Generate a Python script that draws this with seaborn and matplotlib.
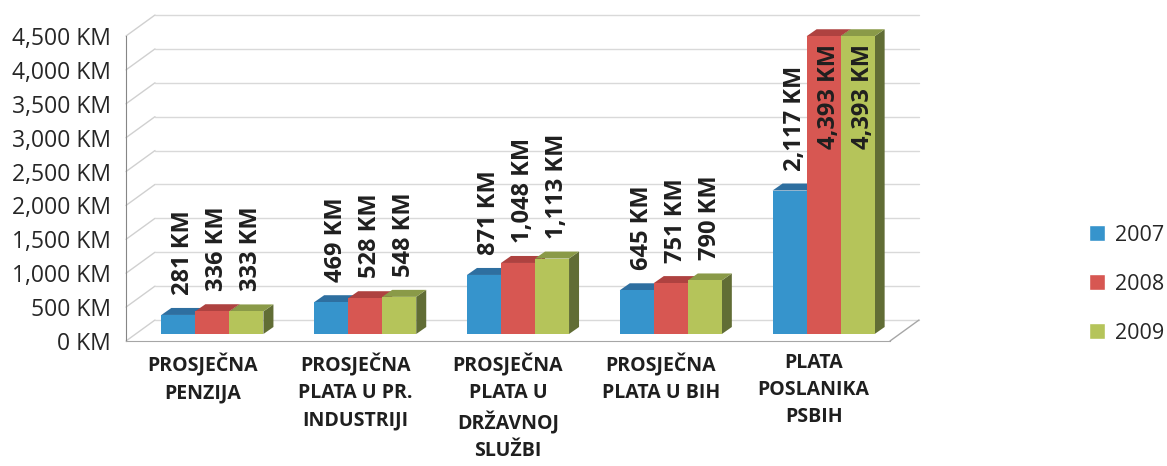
import numpy as np
import pandas as pd
import seaborn as sns
import matplotlib
matplotlib.use("Agg")
import matplotlib.pyplot as plt
from matplotlib.patches import Polygon
from matplotlib.lines import Line2D

# data
categories = ["PROSJEČNA\nPENZIJA", "PROSJEČNA\nPLATA U PR.\nINDUSTRIJI",
              "PROSJEČNA\nPLATA U\nDRŽAVNOJ\nSLUŽBI", "PROSJEČNA\nPLATA U BIH",
              "PLATA\nPOSLANIKA\nPSBIH"]
years = ["2007", "2008", "2009"]
v2007 = [281, 469, 871, 645, 2117]
v2008 = [336, 528, 1048, 751, 4393]
v2009 = [333, 548, 1113, 790, 4393]
yticks = [0, 500, 1000, 1500, 2000, 2500, 3000, 3500, 4000, 4500]

front_col = ["#3694CC", "#D75752", "#B5C45A"]
top_col = ["#2E6FA0", "#AE4240", "#8A9A48"]
side_col = ["#2A5F88", "#8F3533", "#616D35"]

df = pd.DataFrame({
    "cat": np.repeat(categories, 3),
    "year": years * len(categories),
    "val": np.ravel(np.column_stack([v2007, v2008, v2009])),
})

sns.set_style("white")
plt.rcParams["font.family"] = ["Open Sans", "DejaVu Sans"]

W, H = 1167, 466
fig = plt.figure(figsize=(W / 100, H / 100), dpi=100)
ax = fig.add_axes([126 / W, 125 / H, 764 / W, 305 / H])

sns.barplot(data=df, x="cat", y="val", hue="year", hue_order=years,
            palette=front_col, width=0.668, gap=0, dodge=True,
            saturation=1, ax=ax, legend=False, errorbar=None)
ax.set_xlim(-0.5, len(categories) - 0.5)
ax.set_ylim(0, 4500)

# depth of the box (pixels): full box and bar offsets
DX, DY = 29, 21
bx0, by0 = 10, 7
bx1, by1 = 20, 14

fig.canvas.draw()
tr = ax.transData

# walls: gridlines on back wall + diagonal on left wall
for v in yticks:
    x0, y0 = tr.transform((-0.5, v))
    x1, y1 = tr.transform((len(categories) - 0.5, v))
    fig.add_artist(Line2D([x0, x0 + DX], [y0, y0 + DY], color="#D0D0D0",
                          lw=1, transform=None, zorder=0))
    fig.add_artist(Line2D([x0 + DX, x1 + DX], [y0 + DY, y1 + DY], color="#D9D9D9",
                          lw=1, transform=None, zorder=0))
# floor right edge
fx, fy = tr.transform((len(categories) - 0.5, 0))
fig.add_artist(Line2D([fx, fx + DX], [fy, fy + DY], color="#A6A6A6",
                      lw=1, transform=None, zorder=0))

# turn flat seaborn bars into boxes
bars = sorted(ax.patches, key=lambda p: p.get_x())
for i, p in enumerate(bars):
    k = [j for j, c in enumerate(front_col)
         if np.allclose(p.get_facecolor()[:3], matplotlib.colors.to_rgb(c))][0]
    xa, xb = p.get_x(), p.get_x() + p.get_width()
    h = p.get_height()
    (px0, py0) = tr.transform((xa, 0))
    (px1, py1) = tr.transform((xb, h))
    px0 += bx0; px1 += bx0; py0 += by0; py1 += by0
    d = bx1 - bx0
    e = by1 - by0
    side = Polygon([(px1, py0), (px1 + d, py0 + e), (px1 + d, py1 + e), (px1, py1)],
                   closed=True, fc=side_col[k], ec="none", transform=None, zorder=3 + i * 0.01)
    top = Polygon([(px0, py1), (px1, py1), (px1 + d, py1 + e), (px0 + d, py1 + e)],
                  closed=True, fc=top_col[k], ec="none", transform=None, zorder=3 + i * 0.01)
    front = Polygon([(px0, py0), (px1, py0), (px1, py1), (px0, py1)],
                    closed=True, fc=front_col[k], ec="none", transform=None, zorder=3 + i * 0.01 + 0.005)
    for art in (side, top, front):
        fig.add_artist(art)
    p.set_visible(False)

    # value label
    cx = (px0 + px1) / 2 + 5
    lab = f"{int(h):,} KM"
    if h > 4000:
        fig.text(cx / W, (py1 - 8) / H, lab, rotation=90, ha="center", va="top",
                 fontsize=17, fontweight="bold", color="#1F1F1F", zorder=10)
    else:
        fig.text(cx / W, (py1 + 20) / H, lab, rotation=90, ha="center", va="bottom",
                 fontsize=17, fontweight="bold", color="#1F1F1F", zorder=10)

# axes styling
for s in ["top", "right"]:
    ax.spines[s].set_visible(False)
ax.spines["left"].set_color("#868686")
ax.spines["bottom"].set_color("#A6A6A6")
ax.patch.set_alpha(0)
ax.set_yticks(yticks)
ax.set_yticklabels([f"{v:,} KM" for v in yticks], fontsize=16.5, color="#262626")
ax.tick_params(axis="y", length=4, color="#868686", pad=7)
ax.set_xticks(np.arange(0.5, len(categories)))
ax.set_xticklabels([])
ax.tick_params(axis="x", which="major", length=5, color="#A6A6A6", direction="out")
ax.set_xticks(np.arange(len(categories)), minor=True)
ax.set_xticklabels(categories, minor=True, fontsize=14, fontweight="bold",
                   color="#1F1F1F", linespacing=1.45)
ax.tick_params(axis="x", which="minor", length=0, pad=9)
ax.set_xlabel("")
ax.set_ylabel("")

# legend
handles = [plt.Rectangle((0, 0), 1, 1, fc=c) for c in front_col]
fig.legend(handles, years, loc="center right", bbox_to_anchor=(1164 / W, 0.39),
           frameon=False, fontsize=15.5, handlelength=0.75, handleheight=0.75,
           labelspacing=1.3, handletextpad=0.45, borderpad=0, borderaxespad=0)

fig.savefig("out.png", dpi=100)
